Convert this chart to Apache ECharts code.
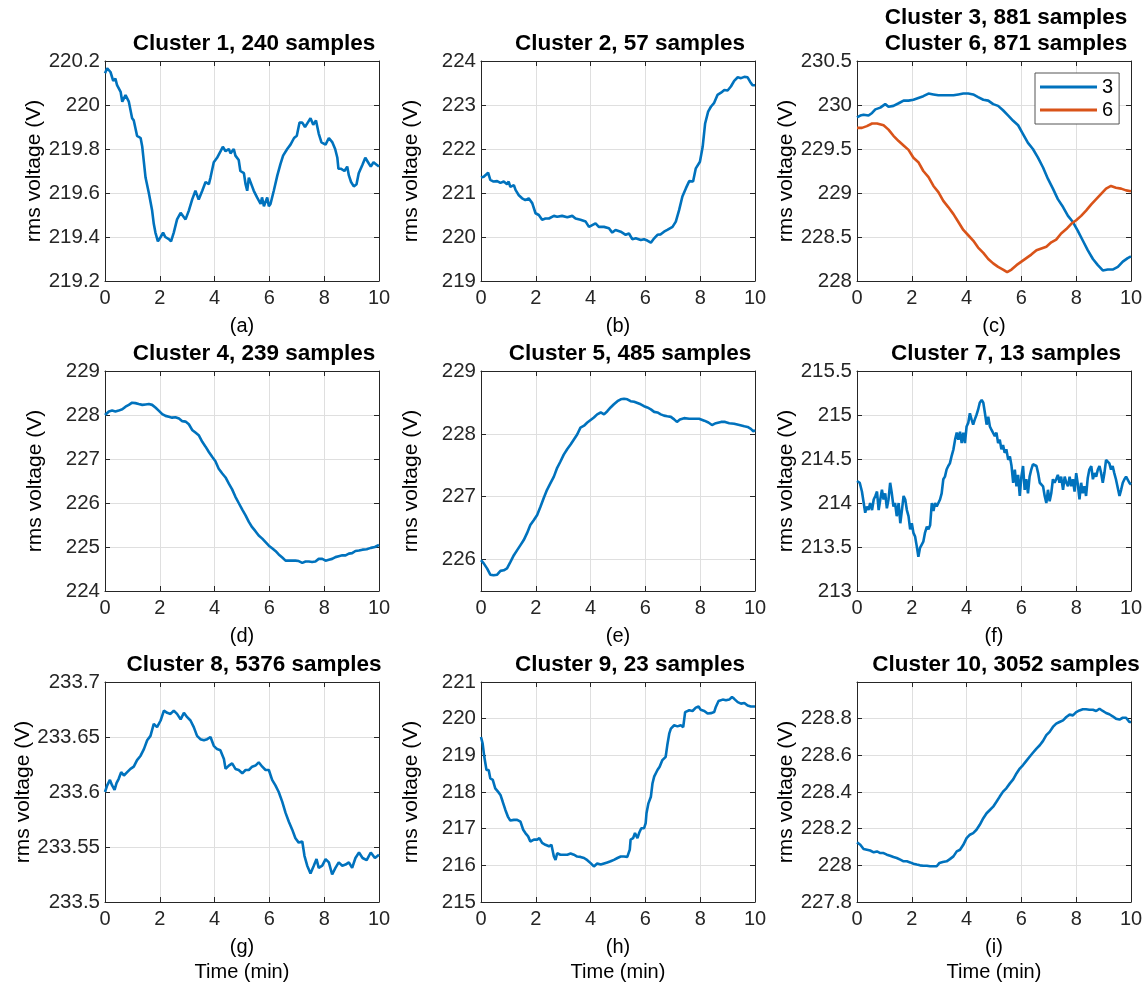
<!DOCTYPE html>
<html>
<head>
<meta charset="utf-8">
<title>rms voltage clusters</title>
<script src="https://cdn.jsdelivr.net/npm/echarts@6/dist/echarts.min.js"></script>
<style>
  html, body { margin: 0; padding: 0; background: #fff; }
  #main { width: 1148px; height: 990px; }
</style>
</head>
<body>
<div id="main"></div>
<script>
  // [time (min), rms voltage (V)]
  const cluster1 = [[0,220.144],[0.08,220.167],[0.2,220.15],[0.3,220.11],[0.38,220.12],[0.44,220.09],[0.57,220.06],[0.63,220.015],[0.75,220.045],[0.87,220.015],[0.99,219.94],[1.05,219.93],[1.17,219.86],[1.3,219.85],[1.36,219.81],[1.48,219.67],[1.6,219.6],[1.72,219.52],[1.78,219.46],[1.84,219.42],[1.93,219.38],[2.03,219.40],[2.12,219.42],[2.2,219.4],[2.33,219.39],[2.41,219.38],[2.51,219.42],[2.63,219.48],[2.76,219.51],[2.88,219.49],[2.94,219.48],[3.06,219.52],[3.18,219.57],[3.3,219.61],[3.42,219.57],[3.55,219.61],[3.67,219.65],[3.79,219.64],[3.85,219.67],[3.97,219.74],[4.09,219.76],[4.22,219.79],[4.3,219.81],[4.4,219.79],[4.52,219.8],[4.58,219.78],[4.7,219.8],[4.76,219.77],[4.88,219.75],[4.94,219.7],[5.07,219.69],[5.13,219.64],[5.19,219.61],[5.25,219.67],[5.37,219.63],[5.43,219.61],[5.55,219.58],[5.68,219.55],[5.73,219.58],[5.8,219.54],[5.92,219.58],[5.98,219.54],[6.04,219.55],[6.16,219.61],[6.29,219.68],[6.4,219.73],[6.5,219.77],[6.65,219.8],[6.77,219.82],[6.9,219.85],[7.0,219.86],[7.1,219.92],[7.2,219.92],[7.3,219.9],[7.4,219.92],[7.5,219.94],[7.6,219.91],[7.7,219.93],[7.8,219.87],[7.9,219.83],[8.05,219.82],[8.17,219.85],[8.3,219.83],[8.4,219.8],[8.48,219.76],[8.52,219.71],[8.62,219.71],[8.74,219.7],[8.84,219.72],[8.9,219.68],[8.98,219.65],[9.08,219.63],[9.18,219.64],[9.26,219.69],[9.4,219.73],[9.5,219.76],[9.6,219.74],[9.7,219.72],[9.8,219.74],[9.9,219.73],[10,219.72]];
  const cluster2 = [[0,221.35],[0.1,221.37],[0.26,221.46],[0.34,221.3],[0.46,221.26],[0.59,221.27],[0.71,221.23],[0.83,221.26],[0.95,221.2],[1.01,221.26],[1.07,221.14],[1.2,221.18],[1.26,221.07],[1.38,220.95],[1.5,220.88],[1.62,220.84],[1.74,220.88],[1.87,220.77],[1.99,220.54],[2.11,220.5],[2.23,220.39],[2.35,220.42],[2.48,220.42],[2.66,220.48],[2.78,220.46],[2.96,220.48],[3.15,220.45],[3.33,220.48],[3.45,220.42],[3.63,220.39],[3.82,220.35],[3.94,220.23],[4.06,220.27],[4.18,220.31],[4.3,220.23],[4.49,220.23],[4.67,220.2],[4.79,220.1],[4.91,220.16],[5.1,220.12],[5.28,220.05],[5.4,220.08],[5.52,219.95],[5.65,219.97],[5.83,219.93],[5.95,219.95],[6.07,219.92],[6.2,219.87],[6.32,219.97],[6.44,220.05],[6.56,220.06],[6.68,220.12],[6.8,220.16],[6.99,220.23],[7.11,220.35],[7.23,220.61],[7.35,220.92],[7.48,221.11],[7.6,221.27],[7.74,221.26],[7.84,221.56],[7.99,221.71],[8.09,222.05],[8.18,222.58],[8.29,222.85],[8.39,222.96],[8.51,223.05],[8.63,223.23],[8.76,223.28],[8.88,223.34],[9.0,223.33],[9.12,223.42],[9.24,223.55],[9.37,223.63],[9.49,223.61],[9.61,223.64],[9.73,223.63],[9.82,223.53],[9.91,223.45],[10,223.45]];
  const cluster3 = [[0,229.86],[0.12,229.88],[0.24,229.89],[0.42,229.88],[0.55,229.91],[0.67,229.95],[0.85,229.97],[1.03,230.01],[1.15,229.98],[1.33,229.99],[1.52,230.02],[1.7,230.05],[1.88,230.05],[2.06,230.06],[2.24,230.08],[2.42,230.1],[2.61,230.13],[2.79,230.12],[2.97,230.11],[3.15,230.11],[3.33,230.11],[3.52,230.11],[3.7,230.12],[3.88,230.13],[4.06,230.13],[4.24,230.12],[4.42,230.09],[4.61,230.06],[4.79,230.05],[4.97,230.01],[5.15,229.99],[5.33,229.94],[5.52,229.88],[5.7,229.82],[5.88,229.77],[6.06,229.67],[6.24,229.57],[6.42,229.5],[6.61,229.4],[6.79,229.29],[6.97,229.16],[7.15,229.05],[7.33,228.93],[7.52,228.84],[7.7,228.74],[7.88,228.67],[8.06,228.57],[8.24,228.46],[8.42,228.35],[8.61,228.25],[8.79,228.18],[8.97,228.12],[9.15,228.13],[9.33,228.13],[9.52,228.16],[9.7,228.22],[9.88,228.26],[10,228.28]];
  const cluster6 = [[0,229.74],[0.18,229.74],[0.36,229.76],[0.55,229.79],[0.73,229.79],[0.97,229.77],[1.15,229.72],[1.33,229.65],[1.52,229.59],[1.7,229.54],[1.88,229.49],[2.06,229.4],[2.24,229.35],[2.42,229.25],[2.61,229.18],[2.79,229.08],[2.97,229.01],[3.15,228.91],[3.33,228.84],[3.52,228.76],[3.7,228.67],[3.88,228.58],[4.06,228.52],[4.24,228.46],[4.42,228.38],[4.61,228.32],[4.79,228.25],[4.97,228.2],[5.15,228.16],[5.33,228.13],[5.48,228.1],[5.64,228.13],[5.82,228.18],[6.0,228.22],[6.18,228.26],[6.36,228.3],[6.55,228.35],[6.73,228.37],[6.91,228.39],[7.09,228.44],[7.27,228.47],[7.45,228.54],[7.64,228.59],[7.82,228.65],[8.0,228.69],[8.18,228.74],[8.36,228.8],[8.55,228.87],[8.73,228.93],[8.91,228.99],[9.09,229.05],[9.27,229.08],[9.45,229.06],[9.64,229.05],[9.82,229.03],[10,229.02]];
  const cluster4 = [[0,228.0],[0.14,228.08],[0.26,228.1],[0.38,228.08],[0.5,228.1],[0.63,228.13],[0.75,228.19],[0.87,228.23],[0.99,228.28],[1.11,228.27],[1.23,228.25],[1.36,228.23],[1.48,228.24],[1.6,228.25],[1.72,228.23],[1.84,228.17],[1.96,228.1],[2.09,228.02],[2.21,227.98],[2.33,227.96],[2.45,227.94],[2.57,227.95],[2.7,227.92],[2.82,227.86],[2.94,227.85],[3.06,227.79],[3.18,227.66],[3.3,227.6],[3.42,227.54],[3.55,227.39],[3.67,227.28],[3.79,227.16],[3.91,227.05],[4.03,226.95],[4.15,226.78],[4.28,226.67],[4.4,226.58],[4.52,226.44],[4.64,226.31],[4.76,226.14],[4.88,226.0],[5.01,225.85],[5.13,225.72],[5.25,225.57],[5.37,225.45],[5.49,225.36],[5.61,225.26],[5.74,225.19],[5.86,225.11],[5.98,225.03],[6.1,224.97],[6.22,224.91],[6.34,224.83],[6.47,224.76],[6.59,224.69],[6.71,224.69],[6.83,224.69],[6.95,224.69],[7.07,224.68],[7.2,224.64],[7.32,224.67],[7.44,224.67],[7.56,224.66],[7.68,224.67],[7.8,224.73],[7.93,224.73],[8.05,224.69],[8.17,224.71],[8.29,224.73],[8.41,224.77],[8.53,224.79],[8.66,224.81],[8.78,224.81],[8.9,224.85],[9.02,224.86],[9.14,224.91],[9.27,224.92],[9.4,224.94],[9.55,224.95],[9.7,224.98],[9.85,225.0],[10,225.05]];
  const cluster5 = [[0,225.99],[0.1,225.94],[0.22,225.86],[0.34,225.76],[0.46,225.75],[0.59,225.76],[0.71,225.82],[0.83,225.83],[0.95,225.86],[1.07,225.96],[1.2,226.07],[1.32,226.15],[1.44,226.23],[1.56,226.31],[1.68,226.42],[1.8,226.55],[1.93,226.63],[2.05,226.71],[2.17,226.84],[2.29,226.98],[2.41,227.11],[2.54,227.22],[2.66,227.32],[2.78,227.46],[2.9,227.56],[3.02,227.67],[3.15,227.76],[3.27,227.83],[3.39,227.91],[3.51,227.99],[3.63,228.1],[3.76,228.13],[3.88,228.18],[4.0,228.22],[4.12,228.26],[4.24,228.31],[4.37,228.34],[4.49,228.31],[4.61,228.36],[4.73,228.42],[4.85,228.47],[4.98,228.52],[5.1,228.55],[5.22,228.56],[5.34,228.55],[5.46,228.52],[5.59,228.51],[5.71,228.49],[5.83,228.47],[5.95,228.44],[6.07,228.42],[6.2,228.39],[6.32,228.35],[6.44,228.34],[6.56,228.31],[6.68,228.29],[6.8,228.28],[6.93,228.27],[7.05,228.23],[7.15,228.19],[7.26,228.23],[7.41,228.25],[7.6,228.24],[7.78,228.24],[7.96,228.24],[8.15,228.21],[8.3,228.18],[8.43,228.14],[8.57,228.17],[8.76,228.19],[8.91,228.19],[9.06,228.17],[9.24,228.16],[9.43,228.14],[9.61,228.12],[9.73,228.11],[9.85,228.08],[9.94,228.04],[10,228.06]];
  const cluster7 = [[0,214.25],[0.1,214.23],[0.18,214.13],[0.24,214.15],[0.3,213.89],[0.36,213.96],[0.42,213.92],[0.48,214.0],[0.55,213.92],[0.61,214.04],[0.67,214.08],[0.73,214.13],[0.79,213.92],[0.85,214.04],[0.91,214.15],[0.97,214.04],[1.03,214.11],[1.09,213.94],[1.15,214.04],[1.21,214.23],[1.27,214.11],[1.33,213.96],[1.39,214.0],[1.45,213.85],[1.52,214.0],[1.58,213.77],[1.64,213.92],[1.7,214.08],[1.76,214.04],[1.82,213.92],[1.88,213.85],[1.94,213.7],[2.0,213.77],[2.06,213.66],[2.12,213.62],[2.18,213.51],[2.24,213.39],[2.3,213.49],[2.36,213.47],[2.42,213.56],[2.48,213.66],[2.55,213.73],[2.61,213.7],[2.67,213.75],[2.73,214.0],[2.79,213.91],[2.85,214.0],[2.91,213.96],[2.97,214.0],[3.03,214.04],[3.09,214.11],[3.15,214.27],[3.21,214.3],[3.27,214.38],[3.33,214.42],[3.39,214.45],[3.45,214.53],[3.52,214.61],[3.58,214.72],[3.64,214.8],[3.7,214.72],[3.76,214.81],[3.82,214.68],[3.88,214.8],[3.94,214.68],[4.0,214.87],[4.06,214.91],[4.12,215.02],[4.18,214.95],[4.24,214.89],[4.3,214.95],[4.36,215.0],[4.42,215.06],[4.48,215.14],[4.55,215.17],[4.61,215.14],[4.67,215.02],[4.73,214.89],[4.79,214.98],[4.85,214.87],[4.91,214.83],[4.97,214.85],[5.03,214.76],[5.09,214.8],[5.15,214.68],[5.21,214.72],[5.27,214.61],[5.33,214.66],[5.39,214.57],[5.45,214.61],[5.52,214.49],[5.58,214.53],[5.64,214.42],[5.7,214.23],[5.76,214.38],[5.82,214.19],[5.88,214.32],[5.94,214.08],[6.0,214.3],[6.06,214.42],[6.12,214.15],[6.18,214.27],[6.24,214.11],[6.3,214.3],[6.36,214.38],[6.42,214.44],[6.48,214.45],[6.55,214.42],[6.61,214.34],[6.67,214.23],[6.73,214.21],[6.79,214.19],[6.85,214.08],[6.91,214.0],[6.97,214.15],[7.03,214.02],[7.09,214.11],[7.15,214.27],[7.21,214.23],[7.27,214.27],[7.33,214.32],[7.39,214.23],[7.45,214.3],[7.52,214.15],[7.58,214.3],[7.64,214.23],[7.7,214.19],[7.76,214.3],[7.82,214.19],[7.88,214.27],[7.94,214.13],[8.0,214.34],[8.06,214.21],[8.12,214.04],[8.18,214.23],[8.24,214.11],[8.3,214.19],[8.36,214.08],[8.42,214.28],[8.48,214.38],[8.55,214.42],[8.61,214.27],[8.67,214.34],[8.73,214.3],[8.79,214.38],[8.85,214.42],[8.91,214.34],[8.97,214.23],[9.03,214.34],[9.09,214.49],[9.15,214.51],[9.21,214.45],[9.27,214.38],[9.33,214.42],[9.39,214.34],[9.45,214.27],[9.52,214.25],[9.58,214.08],[9.64,214.15],[9.7,214.23],[9.76,214.27],[9.82,214.3],[9.88,214.32],[9.94,214.23],[10,214.21]];
  const cluster8 = [[0,233.6],[0.08,233.606],[0.18,233.611],[0.26,233.606],[0.35,233.602],[0.42,233.608],[0.5,233.612],[0.59,233.618],[0.69,233.615],[0.81,233.618],[0.93,233.621],[1.05,233.623],[1.17,233.629],[1.3,233.633],[1.42,233.639],[1.54,233.647],[1.66,233.651],[1.78,233.662],[1.9,233.659],[2.03,233.665],[2.15,233.674],[2.27,233.672],[2.39,233.671],[2.51,233.674],[2.63,233.671],[2.76,233.666],[2.88,233.672],[3.0,233.668],[3.12,233.665],[3.24,233.659],[3.36,233.651],[3.48,233.648],[3.61,233.647],[3.73,233.648],[3.85,233.65],[3.97,233.642],[4.09,233.639],[4.21,233.638],[4.34,233.63],[4.4,233.621],[4.52,233.624],[4.64,233.626],[4.76,233.621],[4.88,233.62],[5.01,233.617],[5.13,233.62],[5.25,233.62],[5.37,233.623],[5.49,233.624],[5.61,233.627],[5.74,233.623],[5.86,233.62],[5.98,233.62],[6.1,233.611],[6.22,233.606],[6.34,233.6],[6.47,233.591],[6.59,233.581],[6.71,233.573],[6.83,233.566],[6.95,233.558],[7.07,233.554],[7.2,233.555],[7.28,233.542],[7.38,233.533],[7.5,233.526],[7.62,233.533],[7.72,233.539],[7.8,233.531],[7.93,233.533],[8.05,233.539],[8.17,233.536],[8.29,233.525],[8.41,233.531],[8.53,233.536],[8.66,233.533],[8.78,233.534],[8.9,233.536],[9.02,233.531],[9.14,233.54],[9.27,233.545],[9.4,233.54],[9.55,233.538],[9.7,233.545],[9.85,233.54],[10,233.543]];
  const cluster9 = [[0,219.5],[0.06,219.32],[0.12,218.96],[0.2,218.6],[0.28,218.6],[0.34,218.37],[0.43,218.33],[0.52,218.1],[0.62,218.01],[0.71,217.92],[0.79,217.74],[0.89,217.51],[0.98,217.33],[1.07,217.22],[1.2,217.24],[1.32,217.24],[1.44,217.19],[1.54,216.97],[1.62,216.88],[1.72,216.79],[1.8,216.65],[1.93,216.7],[2.05,216.7],[2.13,216.74],[2.23,216.61],[2.35,216.56],[2.48,216.52],[2.57,216.56],[2.66,216.24],[2.72,216.15],[2.78,216.33],[2.9,216.29],[3.02,216.29],[3.15,216.29],[3.27,216.32],[3.39,216.29],[3.51,216.24],[3.63,216.23],[3.76,216.2],[3.88,216.14],[4.0,216.06],[4.12,215.97],[4.24,216.05],[4.37,216.02],[4.49,216.05],[4.61,216.08],[4.73,216.11],[4.85,216.15],[4.98,216.2],[5.1,216.24],[5.22,216.24],[5.34,216.23],[5.43,216.43],[5.46,216.7],[5.55,216.74],[5.62,216.88],[5.71,216.74],[5.77,216.88],[5.85,217.01],[5.95,217.01],[6.01,217.15],[6.04,217.42],[6.11,217.69],[6.2,217.87],[6.26,218.24],[6.32,218.42],[6.38,218.43],[6.44,218.6],[6.52,218.69],[6.62,218.87],[6.68,218.87],[6.74,218.96],[6.8,219.28],[6.87,219.59],[6.93,219.73],[7.05,219.82],[7.17,219.79],[7.29,219.82],[7.38,219.77],[7.45,220.18],[7.6,220.23],[7.72,220.21],[7.84,220.3],[7.94,220.33],[8.02,220.24],[8.15,220.21],[8.27,220.14],[8.39,220.15],[8.51,220.18],[8.57,220.32],[8.67,220.48],[8.82,220.52],[8.94,220.5],[9.06,220.52],[9.16,220.59],[9.24,220.54],[9.37,220.45],[9.49,220.41],[9.61,220.43],[9.73,220.36],[9.85,220.33],[10,220.33]];
  const cluster10 = [[0,228.125],[0.12,228.112],[0.24,228.089],[0.36,228.085],[0.48,228.081],[0.61,228.071],[0.73,228.076],[0.85,228.067],[0.97,228.067],[1.09,228.058],[1.21,228.052],[1.33,228.045],[1.45,228.04],[1.58,228.031],[1.7,228.022],[1.82,228.022],[1.94,228.016],[2.06,228.009],[2.18,228.004],[2.3,228.0],[2.42,227.998],[2.55,227.998],[2.67,227.995],[2.79,227.995],[2.91,227.995],[3.01,228.013],[3.13,228.018],[3.27,228.022],[3.39,228.034],[3.52,228.049],[3.64,228.076],[3.76,228.085],[3.88,228.112],[4.0,228.148],[4.12,228.167],[4.24,228.176],[4.36,228.194],[4.48,228.221],[4.61,228.257],[4.73,228.284],[4.85,228.302],[4.97,228.32],[5.09,228.347],[5.21,228.375],[5.33,228.402],[5.45,228.42],[5.58,228.447],[5.7,228.469],[5.82,228.501],[5.94,228.528],[6.06,228.547],[6.18,228.57],[6.3,228.592],[6.42,228.614],[6.55,228.637],[6.67,228.655],[6.79,228.679],[6.91,228.71],[7.03,228.728],[7.15,228.755],[7.27,228.773],[7.39,228.782],[7.52,228.791],[7.64,228.809],[7.76,228.822],[7.88,228.818],[8.0,228.836],[8.12,228.845],[8.24,228.851],[8.36,228.851],[8.48,228.849],[8.61,228.849],[8.73,228.842],[8.85,228.854],[8.97,228.842],[9.09,228.831],[9.21,228.824],[9.33,228.813],[9.45,228.8],[9.58,228.795],[9.7,228.805],[9.82,228.805],[9.94,228.782],[10,228.782]];

  // y tick values per panel
  const ticksA = [219.2, 219.4, 219.6, 219.8, 220, 220.2];
  const ticksB = [219, 220, 221, 222, 223, 224];
  const ticksC = [228, 228.5, 229, 229.5, 230, 230.5];
  const ticksD = [224, 225, 226, 227, 228, 229];
  const ticksE = [226, 227, 228, 229];
  const ticksF = [213, 213.5, 214, 214.5, 215, 215.5];
  const ticksG = [233.5, 233.55, 233.6, 233.65, 233.7];
  const ticksH = [215, 216, 217, 218, 219, 220, 221];
  const ticksI = [227.8, 228, 228.2, 228.4, 228.6, 228.8];

  const panels = [
    {tag: '(a)', title: ['Cluster 1, 240 samples'], yr: [219.2, 220.2], ticks: ticksA, lines: [['1', cluster1]]},
    {tag: '(b)', title: ['Cluster 2, 57 samples'], yr: [219, 224], ticks: ticksB, lines: [['2', cluster2]]},
    {tag: '(c)', title: ['Cluster 3, 881 samples', 'Cluster 6, 871 samples'], yr: [228, 230.5], ticks: ticksC, lines: [['3', cluster3], ['6', cluster6]]},
    {tag: '(d)', title: ['Cluster 4, 239 samples'], yr: [224, 229], ticks: ticksD, lines: [['4', cluster4]]},
    {tag: '(e)', title: ['Cluster 5, 485 samples'], yr: [225.5, 229], ticks: ticksE, lines: [['5', cluster5]]},
    {tag: '(f)', title: ['Cluster 7, 13 samples'], yr: [213, 215.5], ticks: ticksF, lines: [['7', cluster7]]},
    {tag: '(g)', title: ['Cluster 8, 5376 samples'], yr: [233.5, 233.7], ticks: ticksG, lines: [['8', cluster8]]},
    {tag: '(h)', title: ['Cluster 9, 23 samples'], yr: [215, 221], ticks: ticksH, lines: [['9', cluster9]]},
    {tag: '(i)', title: ['Cluster 10, 3052 samples'], yr: [227.8, 229], ticks: ticksI, lines: [['10', cluster10]]}
  ];

  const colors = ['#0072BD', '#D95319'];
  const FONT = '"Liberation Sans", Arial, Helvetica, sans-serif';
  const ink = '#262626';
  const colLeft = [105, 481, 857];
  const rowTop = [61, 371, 682];
  const W = 274, H = 220;

  let chart = echarts.init(document.getElementById('main'));
  let option = {
    animation: false,
    backgroundColor: '#fff',
    grid: [], xAxis: [], yAxis: [], series: [], graphic: [],
    legend: {
      data: ['3', '6'],
      orient: 'vertical',
      left: 1035,
      top: 73,
      padding: [4, 6, 4, 5],
      icon: 'rect',
      itemWidth: 57,
      itemHeight: 3,
      itemGap: 3,
      backgroundColor: '#fff',
      borderColor: '#555',
      borderWidth: 1,
      textStyle: {fontFamily: FONT, fontSize: 20, color: '#000'}
    }
  };

  panels.forEach(function (p, i) {
    let col = i % 3, row = Math.floor(i / 3);
    let left = colLeft[col], top = rowTop[row];
    option.grid.push({left: left, top: top, width: W, height: H});

    let tickStyle = {show: true, inside: true, length: 5, lineStyle: {color: ink, width: 1}};
    let lineStyle = {show: true, onZero: false, lineStyle: {color: ink, width: 1}};
    let gridLine = {show: true, lineStyle: {color: '#dfdfdf', width: 1}};

    // bottom / top x
    option.xAxis.push({
      gridIndex: i, type: 'value', position: 'bottom', min: 0, max: 10, interval: 2,
      name: row === 2 ? p.tag + '\nTime (min)' : p.tag,
      nameLocation: 'middle', nameGap: 33,
      nameTextStyle: {fontFamily: FONT, fontSize: 20, color: '#000', lineHeight: 25},
      axisLine: lineStyle, axisTick: tickStyle,
      axisLabel: {fontFamily: FONT, fontSize: 20, color: ink, margin: 7},
      splitLine: gridLine
    });
    option.xAxis.push({
      gridIndex: i, type: 'value', position: 'top', min: 0, max: 10, interval: 2,
      axisLine: lineStyle, axisTick: tickStyle, axisLabel: {show: false}, splitLine: {show: false}
    });

    // left / right y
    option.yAxis.push({
      gridIndex: i, type: 'value', position: 'left', min: p.yr[0], max: p.yr[1],
      name: 'rms voltage (V)', nameLocation: 'middle', nameRotate: 90, nameGap: 59,
      nameTextStyle: {fontFamily: FONT, fontSize: 21, color: '#000'},
      axisLine: lineStyle,
      axisTick: Object.assign({customValues: p.ticks}, tickStyle),
      axisLabel: {customValues: p.ticks, fontFamily: FONT, fontSize: 20.5, color: ink, margin: 5},
      splitLine: gridLine
    });
    option.yAxis.push({
      gridIndex: i, type: 'value', position: 'right', min: p.yr[0], max: p.yr[1],
      axisLine: lineStyle,
      axisTick: Object.assign({customValues: p.ticks}, tickStyle),
      axisLabel: {show: false}, splitLine: {show: false}
    });

    p.lines.forEach(function (ln, k) {
      option.series.push({
        name: ln[0], type: 'line', data: ln[1],
        xAxisIndex: 2 * i, yAxisIndex: 2 * i,
        symbol: 'none', showSymbol: false, silent: true, clip: true,
        lineStyle: {color: colors[k], width: 2.6},
        itemStyle: {color: colors[k]}
      });
    });

    // titles, stacked upward when there are two lines
    let cx = left + W / 2 + 12;
    let n = p.title.length;
    p.title.forEach(function (txt, k) {
      option.graphic.push({
        type: 'text', x: cx, y: top - 17 - (n - 1 - k) * 26,
        style: {text: txt, font: 'bold 22.5px ' + FONT, fill: '#000',
                align: 'center', verticalAlign: 'middle', textAlign: 'center', textVerticalAlign: 'middle'}
      });
    });
  });

  chart.setOption(option);
</script>
</body>
</html>
